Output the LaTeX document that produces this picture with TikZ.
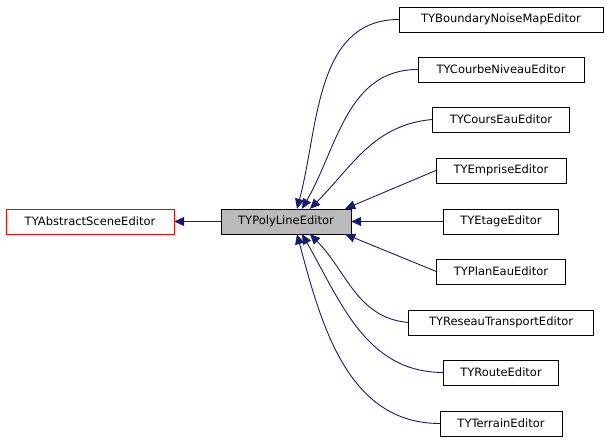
\documentclass[tikz,border=0pt]{standalone}
\usepackage{fontspec}
\setmainfont{DejaVu Sans}
\usetikzlibrary{arrows.meta}
\definecolor{edge}{HTML}{191970}
\begin{document}
\begin{tikzpicture}[x=1pt,y=-1pt,
 box/.style={draw=black,fill=white,minimum height=25pt,inner xsep=2pt,font=\fontsize{11.5}{13}\selectfont,anchor=center},
 inh/.style={draw=edge,line width=0.9pt,{Triangle[length=10pt,width=9pt,fill=edge]}-}]
\useasboundingbox (0,0) rectangle (608,443);
\node[box,draw=red,minimum width=168pt] (abs) at (90,221.5) {TYAbstractSceneEditor};
\node[box,fill=black!27,minimum width=130pt] (poly) at (286,221.5) {TYPolyLineEditor};
\node[box,minimum width=204pt] (b1) at (501,19.5) {TYBoundaryNoiseMapEditor};
\node[box,minimum width=166pt] (b2) at (501,69.5) {TYCourbeNiveauEditor};
\node[box,minimum width=137pt] (b3) at (501,119.5) {TYCoursEauEditor};
\node[box,minimum width=130pt] (b4) at (501,170.5) {TYEmpriseEditor};
\node[box,minimum width=115pt] (b5) at (501,221.5) {TYEtageEditor};
\node[box,minimum width=129pt] (b6) at (501,271.5) {TYPlanEauEditor};
\node[box,minimum width=185pt] (b7) at (501,322.5) {TYReseauTransportEditor};
\node[box,minimum width=115pt] (b8) at (501,372.5) {TYRouteEditor};
\node[box,minimum width=122pt] (b9) at (501,423.5) {TYTerrainEditor};
\draw[inh] (abs.east) -- (poly.west);
\draw[inh] ([xshift=11pt]poly.north) to[out=75,in=180] (b1.west);
\draw[inh] ([xshift=16pt]poly.north) to[out=60,in=180] (b2.west);
\draw[inh] ([xshift=24pt]poly.north) to[out=45,in=185] (b3.west);
\draw[inh] ([xshift=-6pt]poly.north east) -- (b4.west);
\draw[inh] (poly.east) -- (b5.west);
\draw[inh] ([xshift=-6pt]poly.south east) -- (b6.west);
\draw[inh] ([xshift=24pt]poly.south) to[out=-45,in=175] (b7.west);
\draw[inh] ([xshift=16pt]poly.south) to[out=-60,in=180] (b8.west);
\draw[inh] ([xshift=11pt]poly.south) to[out=-75,in=180] (b9.west);
\end{tikzpicture}
\end{document}
